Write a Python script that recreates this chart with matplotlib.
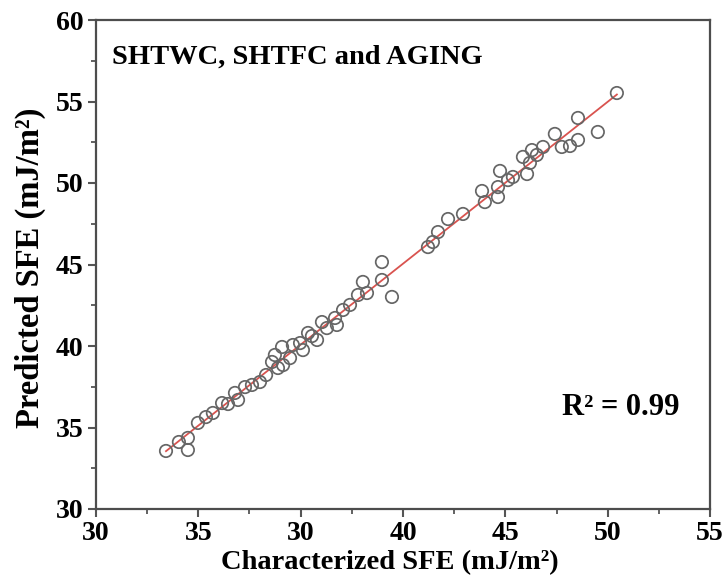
import numpy as np
import matplotlib
matplotlib.use('Agg')
from matplotlib import pyplot as plt
from matplotlib.ticker import MultipleLocator

# valeurs (axe x interne 30-60, etiquettes comme sur l'original)
sfe_char = [33.42, 34.05, 34.49, 34.49, 34.98, 35.37, 35.71, 36.16, 36.45, 36.79,
            36.94, 37.28, 37.62, 38.01, 38.31, 38.60, 38.74, 38.89, 39.09, 39.14,
            39.48, 39.62, 39.97, 40.11, 40.36, 40.55, 40.80, 41.04, 41.28, 41.68,
            41.77, 42.07, 42.41, 42.80, 43.24, 43.04, 43.97, 43.97, 44.46, 46.22,
            46.46, 46.71, 47.20, 47.93, 48.86, 49.00, 49.64, 49.74, 49.64, 50.13,
            50.37, 50.86, 51.06, 51.20, 51.54, 51.30, 51.84, 52.42, 52.76, 53.16,
            53.55, 53.55, 54.52, 55.45]
sfe_pred = [33.56, 34.11, 34.36, 33.62, 35.28, 35.64, 35.89, 36.50, 36.44, 37.12,
            36.69, 37.48, 37.61, 37.79, 38.22, 39.02, 39.45, 38.65, 39.94, 38.83,
            39.26, 40.06, 40.18, 39.75, 40.80, 40.61, 40.37, 41.47, 41.10, 41.72,
            41.29, 42.21, 42.52, 43.13, 43.25, 43.93, 45.15, 44.05, 43.01, 46.07,
            46.38, 46.99, 47.79, 48.10, 49.51, 48.83, 49.14, 50.74, 49.75, 50.18,
            50.37, 51.60, 50.55, 51.23, 51.72, 52.02, 52.21, 53.01, 52.21, 52.27,
            53.99, 52.64, 53.13, 55.52]
xtick_pos = [30, 35, 40, 45, 50, 55, 60]
xtick_labels = ['30', '35', '30', '40', '45', '50', '55']
ytick_pos = [30, 35, 40, 45, 50, 55, 60]

plt.rcParams['font.family'] = ['Liberation Serif', 'DejaVu Serif']

fig = plt.figure(figsize=(7.24, 5.83), dpi=100)
ax = fig.add_axes([96/724, 1-509/583, 614/724, 489/583])

ax.scatter(sfe_char, sfe_pred, s=80, facecolors='none', edgecolors='#666666',
           linewidths=1.25, zorder=3)

# droite de regression
a, b = np.polyfit(sfe_char, sfe_pred, 1)
xl = np.array([min(sfe_char), max(sfe_char)])
ax.plot(xl, a*xl + b, color='#d9534f', lw=1.3, zorder=2)

ax.set_xlim(30, 60)
ax.set_ylim(30, 60)
ax.set_xticks(xtick_pos)
ax.set_xticklabels(xtick_labels)
ax.set_yticks(ytick_pos)
ax.xaxis.set_minor_locator(MultipleLocator(2.5))
ax.yaxis.set_minor_locator(MultipleLocator(2.5))
ax.tick_params(which='major', direction='out', length=6, width=1.5, color='#555555',
               labelsize=20, pad=3)
ax.tick_params(which='minor', direction='out', length=3.5, width=1.3, color='#555555')
for lab in ax.get_xticklabels() + ax.get_yticklabels():
    lab.set_fontweight('bold')
for sp in ax.spines.values():
    sp.set_color('#4d4d4d')
    sp.set_linewidth(1.6)

ax.set_xlabel('Characterized SFE (mJ/m\u00b2)', fontsize=20.5, fontweight='bold')
ax.set_ylabel('Predicted SFE (mJ/m\u00b2)', fontsize=23.5, fontweight='bold')
ax.xaxis.set_label_coords(0.479, -0.085)
ax.yaxis.set_label_coords(-0.081, 0.493)

ax.text(0.026, 0.925, 'SHTWC, SHTFC and AGING', transform=ax.transAxes,
        fontsize=20.5, fontweight='bold', va='center', ha='left')
ax.text(0.95, 0.207, 'R\u00b2 = 0.99', transform=ax.transAxes,
        fontsize=22, fontweight='bold', va='center', ha='right')

fig.savefig('out.png', dpi=100)
